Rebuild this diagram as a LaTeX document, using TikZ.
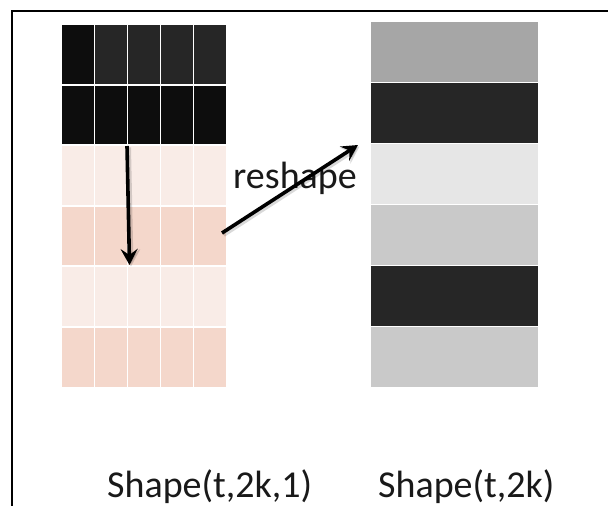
\documentclass[tikz,border=0pt]{standalone}
\usepackage{fontspec}
\setmainfont{Carlito}
\usetikzlibrary{arrows.meta}
\definecolor{ink}{HTML}{0D0D0D}
\definecolor{darkgray}{HTML}{262626}
\definecolor{pinklight}{HTML}{F9ECE7}
\definecolor{pinkdeep}{HTML}{F4D7CB}
\definecolor{greymid}{HTML}{A6A6A6}
\definecolor{greypale}{HTML}{E6E6E6}
\definecolor{greysoft}{HTML}{C9C9C9}
\tikzset{
  cell/.style={fill=#1, draw=none},
  label text/.style={font=\fontsize{38}{44}\selectfont, text=black!90, inner sep=0pt, anchor=base west},
  flow/.style={line width=3.6pt, black, -{Stealth[length=16pt,width=17pt,inset=6pt]}},
  flowshadow/.style={line width=5pt, black, opacity=0.15, -{Stealth[length=17pt,width=19pt,inset=6pt]}},
}
\begin{document}
\begin{tikzpicture}[x=1pt,y=-1pt]
  \useasboundingbox (0,0) rectangle (608,506);
  \fill[white] (0,0) rectangle (608,506);
  % frame, open past the right and bottom edges
  \draw[line width=2pt] (12,520) -- (12,11) -- (620,11);

  % left block: 5 columns x 6 rows
  \def\colx{62,95,128,161,194}
  \foreach \r/\c in {0/darkgray,1/ink,2/pinklight,3/pinkdeep,4/pinklight,5/pinkdeep}{
    \foreach \x in \colx{
      \pgfmathsetmacro{\ytop}{25+60.6*\r}
      \fill[cell=\c] (\x,\ytop) rectangle ++(31.5,58.5);
    }
  }
  % first cell of the top row is darker
  \fill[cell=ink] (62,25) rectangle ++(31.5,58.5);

  % right block: 6 stripes
  \foreach \r/\c in {0/greymid,1/darkgray,2/greypale,3/greysoft,4/darkgray,5/greysoft}{
    \pgfmathsetmacro{\ytop}{22+61*\r}
    \fill[cell=\c] (371,\ytop) rectangle ++(167,60);
  }

  % arrow end points
  \coordinate (downStart) at (127,146);
  \coordinate (downEnd) at (129.5,265);
  \coordinate (diagStart) at (222,233);
  \coordinate (diagEnd) at (358,145);

  \node[label text] (reshape) at (233,188) {reshape};

  \draw[flowshadow] ([shift={(1.5,1.5)}]downStart) -- ([shift={(1.5,1.5)}]downEnd);
  \draw[flowshadow] ([shift={(1.5,1.5)}]diagStart) -- ([shift={(1.5,1.5)}]diagEnd);
  \draw[flow] (downStart) -- (downEnd);
  \draw[flow] (diagStart) -- (diagEnd);

  \node[label text] (leftShape) at (107,497) {Shape(t,2k,1)};
  \node[label text] (rightShape) at (378,497) {Shape(t,2k)};
\end{tikzpicture}
\end{document}
